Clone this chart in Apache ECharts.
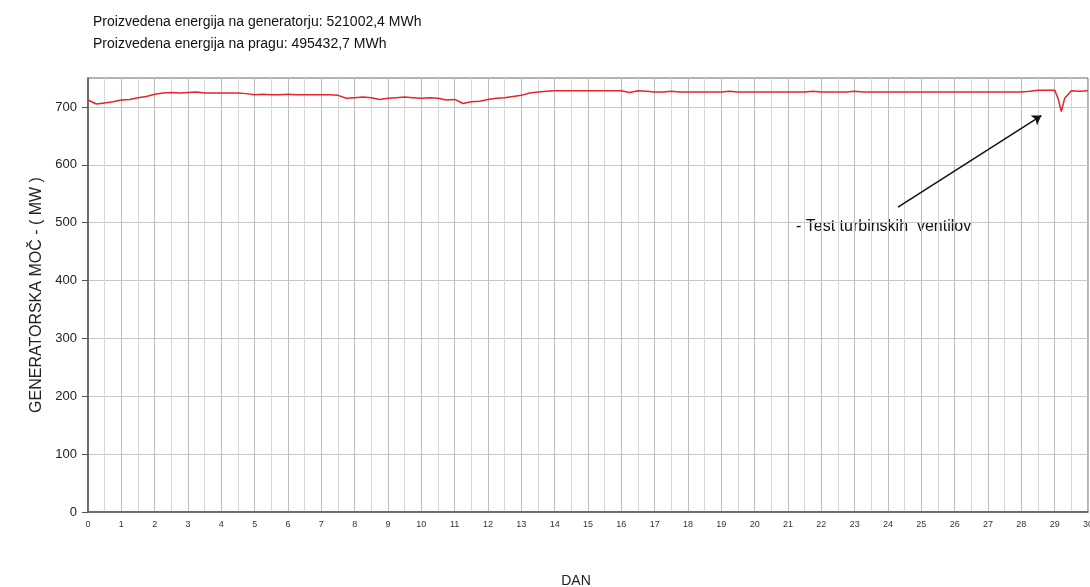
<!DOCTYPE html>
<html>
<head>
<meta charset="utf-8">
<script src="https://cdn.jsdelivr.net/npm/echarts@6/dist/echarts.min.js"></script>
<style>
  html, body { margin: 0; padding: 0; background: #fff; }
  #chart { width: 1090px; height: 587px; }
</style>
</head>
<body>
<div id="chart"></div>
<script>
// podatki odčitani s slike (dan, MW)
const days = [
  0, 0.25, 0.5, 0.75, 1, 1.25, 1.5, 1.75, 2, 2.25, 2.5, 2.75,
  3, 3.25, 3.5, 3.75, 4, 4.25, 4.5, 4.75, 5, 5.25, 5.5, 5.75,
  6, 6.25, 6.5, 6.75, 7, 7.25, 7.5, 7.75, 8, 8.25, 8.5, 8.75,
  9, 9.25, 9.5, 9.75, 10, 10.25, 10.5, 10.75, 11, 11.25, 11.5, 11.75,
  12, 12.25, 12.5, 12.75, 13, 13.25, 13.5, 13.75, 14, 14.25, 14.5, 14.75,
  15, 15.25, 15.5, 15.75, 16, 16.25, 16.5, 16.75, 17, 17.25, 17.5, 17.75,
  18, 18.25, 18.5, 18.75, 19, 19.25, 19.5, 19.75, 20, 20.25, 20.5, 20.75,
  21, 21.25, 21.5, 21.75, 22, 22.25, 22.5, 22.75, 23, 23.25, 23.5, 23.75,
  24, 24.25, 24.5, 24.75, 25, 25.25, 25.5, 25.75, 26, 26.25, 26.5, 26.75,
  27, 27.25, 27.5, 27.75, 28, 28.25, 28.5, 28.75, 29, 29.1, 29.2, 29.3,
  29.5, 29.75, 30
]
const power = [
  712, 705, 707, 709, 712, 713, 716, 718, 722, 724, 725, 724,
  725, 726, 724, 724, 724, 724, 724, 723, 721, 722, 721, 721,
  722, 721, 721, 721, 721, 721, 720, 715, 716, 717, 716, 713,
  715, 716, 717, 716, 715, 716, 715, 712, 713, 706, 709, 710,
  713, 715, 716, 718, 720, 724, 726, 727, 728, 728, 728, 728,
  728, 728, 728, 728, 728, 725, 728, 727, 726, 726, 727, 726,
  726, 726, 726, 726, 726, 727, 726, 726, 726, 726, 726, 726,
  726, 726, 726, 727, 726, 726, 726, 726, 727, 726, 726, 726,
  726, 726, 726, 726, 726, 726, 726, 726, 726, 726, 726, 726,
  726, 726, 726, 726, 726, 727, 729, 729, 729, 715, 692, 715,
  728, 727, 728
]
const yTicks = [0, 100, 200, 300, 400, 500, 600, 700]

const chart = echarts.init(document.getElementById('chart'))
const font = 'Liberation Sans, Arial, sans-serif'

chart.setOption({
  animation: false,
  title: {
    text: 'Proizvedena energija na generatorju: 521002,4 MWh\nProizvedena energija na pragu: 495432,7 MWh',
    left: 88,
    top: 6,
    textStyle: { fontFamily: font, fontSize: 14, fontWeight: 'normal', color: '#111', lineHeight: 22 }
  },
  grid: {
    left: 88, right: 2, top: 78, bottom: 75,
    outerBoundsMode: 'none',
    show: true, borderColor: '#666', borderWidth: 1
  },
  xAxis: {
    type: 'value',
    min: 0, max: 30, interval: 1,
    name: 'DAN',
    nameLocation: 'middle',
    nameGap: 62,
    nameTextStyle: { fontFamily: font, fontSize: 14, color: '#222', padding: [0, 24, 0, 0] },
    axisLine: { show: true, lineStyle: { color: '#555', width: 1.5 } },
    axisTick: { show: false },
    axisLabel: { fontFamily: font, fontSize: 9, color: '#333', margin: 8 },
    splitLine: { show: true, lineStyle: { color: '#bdbdbd', width: 1 } },
    minorTick: { show: false, splitNumber: 2 },
    minorSplitLine: { show: true, lineStyle: { color: '#d6d6d6', width: 1 } }
  },
  yAxis: {
    type: 'value',
    min: 0, max: 750, interval: 100,
    name: 'GENERATORSKA MOČ - ( MW )',
    nameLocation: 'middle',
    nameGap: 38,
    nameRotate: 90,
    nameTextStyle: { fontFamily: font, fontSize: 16, color: '#222' },
    axisLine: { show: true, lineStyle: { color: '#555', width: 1.5 } },
    axisTick: { show: true, length: 6, customValues: yTicks, lineStyle: { color: '#555' } },
    axisLabel: {
      fontFamily: font, fontSize: 13, color: '#222', margin: 11,
      customValues: yTicks
    },
    splitLine: { show: true, lineStyle: { color: '#c8c8c8', width: 1 } }
  },
  graphic: [
    {
      type: 'text',
      left: 796,
      top: 219,
      style: { text: '- Test turbinskih  ventilov', fontFamily: font, fontSize: 16, fill: '#111' }
    }
  ],
  series: [
    {
      type: 'line',
      data: days.map((d, i) => [d, power[i]]),
      showSymbol: false,
      lineStyle: { color: '#e3262b', width: 1.5 },
      markLine: {
        silent: true,
        symbol: ['none', 'arrow'],
        symbolSize: 9,
        label: { show: false },
        lineStyle: { color: '#111', width: 1.5, type: 'solid' },
        data: [[{ coord: [24.3, 527] }, { coord: [28.6, 685] }]]
      }
    }
  ]
})
</script>
</body>
</html>
